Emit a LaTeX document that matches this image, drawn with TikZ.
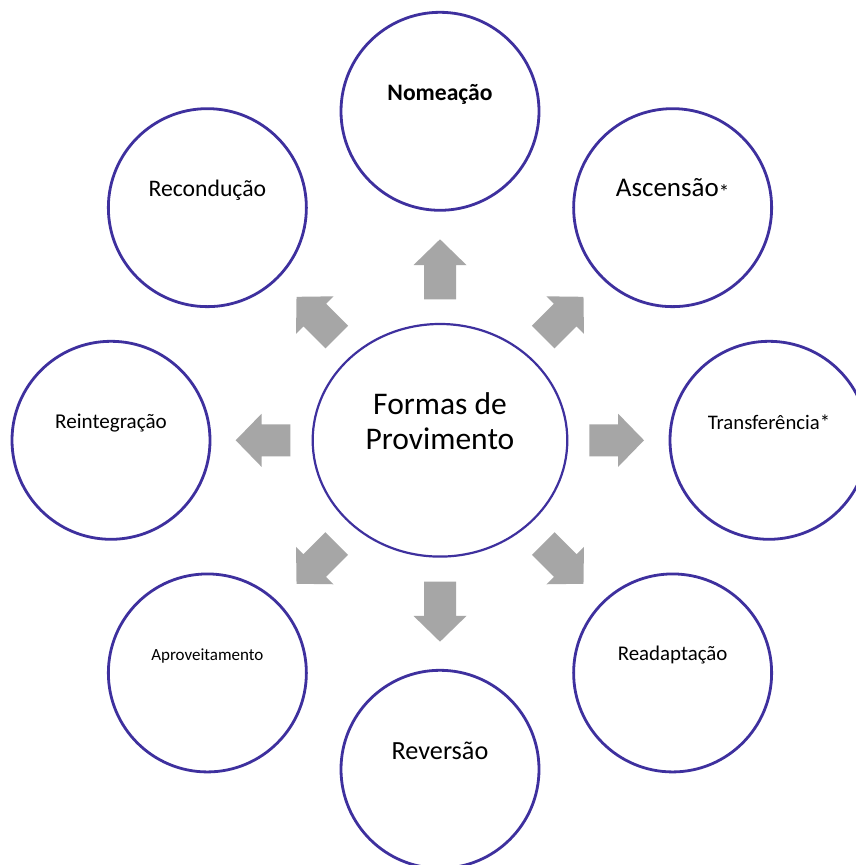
\documentclass[tikz,border=0pt]{standalone}
\usepackage{fontspec}
\setmainfont{Carlito}
\usetikzlibrary{shapes.geometric}
\definecolor{ringblue}{RGB}{62,48,158}
\definecolor{arrowgray}{RGB}{166,166,166}
\tikzset{
  ring/.style={circle, draw=ringblue, line width=2.8pt, minimum size=198pt, inner sep=0pt},
  hub/.style={ellipse, draw=ringblue, line width=2.2pt, minimum width=254.6pt, minimum height=232.6pt, inner sep=0pt},
  lbl/.style={anchor=base, inner sep=0pt, text=black},
  blockarrow/.style={fill=arrowgray}
}
\newcommand\fsz[1]{\fontsize{#1}{#1}\selectfont}
\begin{document}
\begin{tikzpicture}[x=1pt,y=1pt]
\clip (0,0) rectangle (856,865);
\fill[white] (0,0) rectangle (856,865);
% hub
\node[hub] (hub) at (440,424.7) {};
\node[lbl, font=\fsz{31.5}] (hubt1) at ([yshift=25.3pt]hub.center) {Formas de};
\node[lbl, font=\fsz{31.5}] (hubt2) at ([yshift=-9pt]hub.center) {Provimento};
% outer rings
\node[ring] (nom) at ([shift={(90:329)}]hub.center) {};
\node[ring] (asc) at ([shift={(45:329)}]hub.center) {};
\node[ring] (tra) at ([shift={(0:329)}]hub.center) {};
\node[ring] (rea) at ([shift={(-45:329)}]hub.center) {};
\node[ring] (rev) at ([shift={(-90:329)}]hub.center) {};
\node[ring] (apr) at ([shift={(-135:329)}]hub.center) {};
\node[ring] (rei) at ([shift={(180:329)}]hub.center) {};
\node[ring] (rec) at ([shift={(135:329)}]hub.center) {};
% labels
\node[lbl, font=\fsz{23.6}\bfseries] (nomt) at ([yshift=11pt]nom.center) {Nomeação};
\node[lbl, font=\fsz{27}] (asct) at ([yshift=11pt]asc.center) {Ascensão\raisebox{-3pt}{\fsz{21}*}};
\node[lbl, font=\fsz{20.7}] (trat) at ([yshift=11pt]tra.center) {Transferência*};
\node[lbl, font=\fsz{20.9}] (reat) at ([yshift=12pt]rea.center) {Readaptação};
\node[lbl, font=\fsz{26.2}] (revt) at ([yshift=10pt]rev.center) {Reversão};
\node[lbl, font=\fsz{17}] (aprt) at ([yshift=12.5pt]apr.center) {Aproveitamento};
\node[lbl, font=\fsz{21.1}] (reit) at ([yshift=11.5pt]rei.center) {Reintegração};
\node[lbl, font=\fsz{23.7}] (rect) at ([yshift=11pt]rec.center) {Recondução};
% block arrows
\foreach \ang/\t/\p in {90/141/201, 270/141.4/201.4, 180/149.7/204.3, 0/149.3/204,
                         45/146/202.9, 135/146/202.9, 225/146/202.9, 315/146/202.9}{
  \pgfmathsetmacro\h{\p-25.8}
  \begin{scope}[shift={(hub.center)}, rotate=\ang]
    \fill[blockarrow] (\t,-16) -- (\h,-16) -- (\h,-26.5) -- (\p,0) -- (\h,26.5) -- (\h,16) -- (\t,16) -- cycle;
  \end{scope}
}
\end{tikzpicture}
\end{document}
